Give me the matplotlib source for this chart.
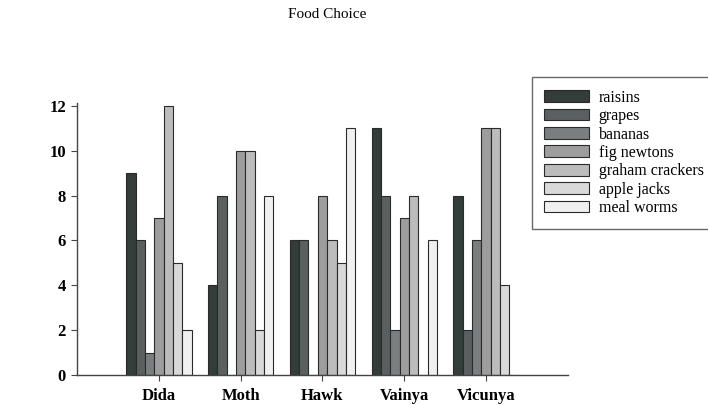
import numpy as np
import matplotlib.pyplot as plt

# Data
animals = ['Dida', 'Moth', 'Hawk', 'Vainya', 'Vicunya']
foods = ['raisins', 'grapes', 'bananas', 'fig newtons',
         'graham crackers', 'apple jacks', 'meal worms']
raisins = [9, 4, 6, 11, 8]
grapes = [6, 8, 6, 8, 2]
bananas = [1, 0, 0, 2, 6]
fig_newtons = [7, 10, 8, 7, 11]
graham_crackers = [12, 10, 6, 8, 11]
apple_jacks = [5, 2, 5, 0, 4]
meal_worms = [2, 8, 11, 6, 0]
series = [raisins, grapes, bananas, fig_newtons,
          graham_crackers, apple_jacks, meal_worms]
colors = ['#333d3a', '#5a605f', '#7b7e7e', '#9d9d9d',
          '#bcbcbc', '#d9d9d9', '#f0f0f0']

plt.rcParams['font.family'] = ['Liberation Serif', 'DejaVu Serif']

fig = plt.figure(figsize=(7.08, 4.05), dpi=100)
ax = fig.add_axes([0.109, 0.074, 0.693, 0.672])

x = np.arange(1, len(animals) + 1)
w = 0.8 / len(series)
for i, (vals, name) in enumerate(zip(series, foods)):
    ax.bar(x + (i - 3) * w, vals, w, color=colors[i], edgecolor='#2a2a2a',
           linewidth=0.8, label=name)

ax.set_xlim(0, 6)
ax.set_ylim(0, 12.13)
ax.set_xticks(x)
ax.set_xticklabels(animals, fontsize=12, fontweight='bold')
ax.set_yticks(range(0, 13, 2))
ax.set_yticklabels([str(v) for v in range(0, 13, 2)], fontsize=12, fontweight='bold')
ax.tick_params(axis='x', direction='out', length=4, pad=5.5, color='#444444')
ax.tick_params(axis='y', direction='out', length=4, pad=4, color='#444444')
for s in ['top', 'right']:
    ax.spines[s].set_visible(False)
for s in ['left', 'bottom']:
    ax.spines[s].set_color('#444444')
    ax.spines[s].set_linewidth(1.0)

fig.text(0.462, 0.963, 'Food Choice', ha='center', va='center', fontsize=11)

leg = fig.legend(loc='upper left', bbox_to_anchor=(0.751, 0.81), fontsize=11.5,
                 frameon=True, fancybox=False, handlelength=2.8, handleheight=0.75,
                 handletextpad=0.6, labelspacing=0.15, borderpad=0.8,
                 borderaxespad=0)
leg.get_frame().set_edgecolor('#444444')
leg.get_frame().set_linewidth(1.0)

fig.savefig('out.png', dpi=100)
